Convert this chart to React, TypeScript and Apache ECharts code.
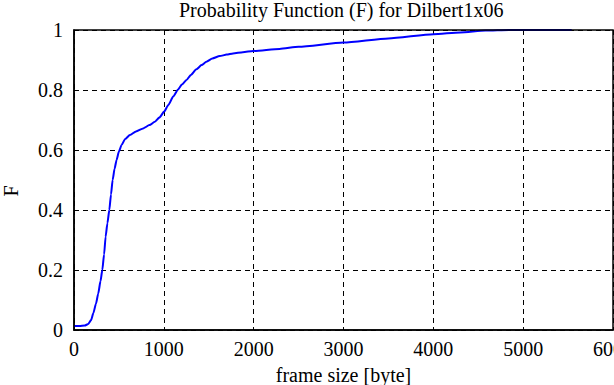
import React, { useEffect, useRef } from "react";
import * as echarts from "echarts";

const frameSizes = [0, 60, 120, 159, 190, 215, 245, 270, 295, 315, 335, 352, 372, 393, 412, 430, 452, 474, 500, 530, 570, 622, 690, 770, 840, 900, 950, 1004, 1050, 1104, 1159, 1200, 1252, 1300, 1363, 1420, 1474, 1540, 1622, 1700, 1770, 1880, 1993, 2289, 2500, 3000, 3500, 4000, 4300, 4581, 4842, 5200, 5540];
const probabilities = [0.013, 0.013, 0.015, 0.02, 0.033, 0.056, 0.088, 0.122, 0.163, 0.2, 0.252, 0.311, 0.356, 0.4, 0.452, 0.5, 0.538, 0.567, 0.595, 0.617, 0.637, 0.65, 0.662, 0.672, 0.683, 0.694, 0.708, 0.728, 0.75, 0.778, 0.802, 0.818, 0.833, 0.85, 0.869, 0.883, 0.894, 0.905, 0.913, 0.918, 0.922, 0.926, 0.93, 0.937, 0.944, 0.958, 0.972, 0.986, 0.992, 0.998, 1.0, 1.0, 1.0];

const xTicks = [0, 1000, 2000, 3000, 4000, 5000, 6000];
const yTicks = [0, 0.2, 0.4, 0.6, 0.8, 1];

const FONT = "'Liberation Serif', 'Times New Roman', serif";

export default function App() {
  const ref = useRef<HTMLDivElement>(null);
  useEffect(() => {
    if (!ref.current) return;
    const chart = echarts.init(ref.current, null, { renderer: "svg" });
    const data = frameSizes.map((x, i) => [x, probabilities[i]]);
    chart.setOption({
      animation: false,
      backgroundColor: "#ffffff",
      title: {
        text: "Probability Function (F) for Dilbert1x06",
        left: 179,
        top: 0,
        padding: 0,
        textStyle: { fontFamily: FONT, fontSize: 20, fontWeight: "normal", color: "#000" },
      },
      grid: { left: 74, right: 1, top: 30, bottom: 55, containLabel: false, outerBoundsMode: "none" },
      xAxis: {
        type: "value",
        min: xTicks[0],
        max: xTicks[xTicks.length - 1],
        interval: 1000,
        name: "frame size [byte]",
        nameLocation: "middle",
        nameGap: 35,
        nameTextStyle: { fontFamily: FONT, fontSize: 20, color: "#000" },
        axisLine: { show: true, lineStyle: { color: "#000", width: 1.5 } },
        axisTick: { show: false },
        axisLabel: {
          fontFamily: FONT,
          fontSize: 20,
          color: "#000",
          margin: 9,
          showMaxLabel: true,
          formatter: (v: number) => String(v),
        },
        splitLine: { show: true, lineStyle: { color: "#000", width: 1, type: [5, 4] } },
      },
      yAxis: {
        type: "value",
        min: yTicks[0],
        max: yTicks[yTicks.length - 1],
        interval: 0.2,
        name: "F",
        nameLocation: "middle",
        nameGap: 53,
        nameRotate: 90,
        nameTextStyle: { fontFamily: FONT, fontSize: 20, color: "#000", padding: [0, 22, 0, 0] },
        axisLine: { show: true, lineStyle: { color: "#000", width: 1.5 } },
        axisTick: { show: false },
        axisLabel: {
          fontFamily: FONT,
          fontSize: 20,
          color: "#000",
          margin: 11,
          formatter: (v: number) => String(Math.round(v * 10) / 10),
        },
        splitLine: { show: true, lineStyle: { color: "#000", width: 1, type: [5, 4] } },
      },
      graphic: [
        {
          type: "rect",
          shape: { x: 74, y: 30, width: 539, height: 300 },
          style: { fill: "none", stroke: "#000", lineWidth: 1.5 },
          silent: true,
          z: 10,
        },
      ],
      series: [
        {
          type: "line",
          data,
          smooth: 0.2,
          smoothMonotone: "x",
          showSymbol: false,
          lineStyle: { color: "#0000ff", width: 2 },
        },
      ],
    });
    return () => chart.dispose();
  }, []);
  return <div ref={ref} style={{ position: "fixed", left: 0, top: 0, width: 614, height: 385 }} />;
}
